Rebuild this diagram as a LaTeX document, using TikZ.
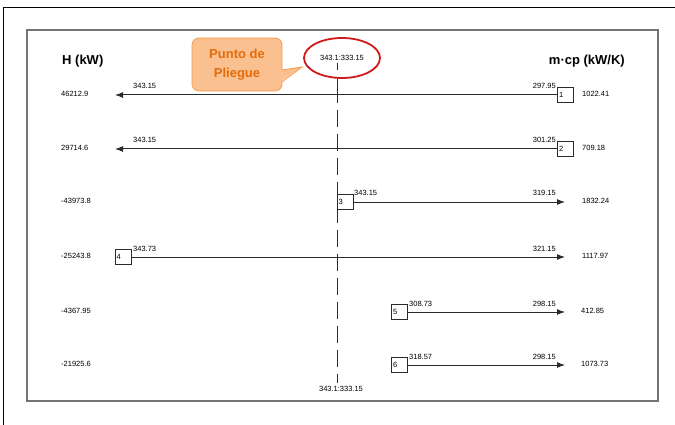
\documentclass[tikz,border=0pt]{standalone}
\usepackage{fontspec}
\setmainfont{Liberation Sans}
\usetikzlibrary{arrows.meta,shapes.geometric}
\definecolor{foldtext}{HTML}{E46C0A}
\definecolor{foldfill}{HTML}{FAC090}
\definecolor{foldedge}{HTML}{F59A4E}
\definecolor{pinchred}{HTML}{D01A1A}
\definecolor{linegray}{HTML}{2A2A2A}
\tikzset{
  val/.style={font=\fontsize{7.5}{9}\selectfont, inner sep=0pt},
  head/.style={font=\fontsize{13}{15}\selectfont\bfseries, inner sep=0pt},
  stream/.style={draw=linegray, line width=1pt, -{Latex[length=8pt,width=6pt]}},
  sbox/.style={draw=linegray, line width=1pt, minimum width=16pt, minimum height=15pt,
    text width=13pt, inner sep=1.5pt, align=left, font=\fontsize{7.5}{8}\selectfont},
  pinch/.style={draw=linegray, line width=1pt},
  fold/.style={draw=foldedge, fill=foldfill, line width=0.8pt, rounded corners=7pt,
    minimum width=90pt, minimum height=53pt, align=center, text=foldtext,
    font=\fontsize{13}{19}\selectfont\bfseries}
}
\begin{document}
\begin{tikzpicture}[x=1pt,y=-1pt]
\useasboundingbox (0,0) rectangle (675,425);
% frames
\draw[line width=0.8pt] (3,425) -- (3,7) -- (675,7);
\draw[black!55, line width=1.5pt] (27,30) rectangle (658,401);

% column headers
\node[head, anchor=west] (hcol) at (62,61) {H (kW)};
\node[head, anchor=east] (mcpcol) at (625,61) {m·cp (kW/K)};

% pinch point
\node[ellipse, draw=pinchred, line width=1.8pt, minimum width=76pt, minimum height=40pt, val] (pinch) at (342,58) {343.1:333.15};
\node[fold] (fold) at (237,64.5) {Punto de\\Pliegue};
\coordinate (foldtip) at (302,67);
\fill[foldfill] (280,70) -- (foldtip) -- (280,82) -- cycle;
\draw[foldedge, line width=0.8pt] (282,70) -- (foldtip) -- (282,82);

\coordinate (ptop) at (337,63);
\coordinate (pbot) at (337,383);
\node[val] (pinchlow) at (341,389) {343.1:333.15};
\draw[pinch] (ptop) -- ++(0,7);
\draw[pinch] (pinch.south -| ptop) -- (337,103);
\draw[pinch, dash pattern=on 17pt off 7pt] (337,110) -- (pbot);

% stream 1
\node[sbox] (b1) at (565.5,95) {1};
\coordinate (t1) at (115,95);
\draw[stream] (b1) -- (t1);
\node[val, anchor=base west] (ta1) at (133,89) {343.15};
\node[val, anchor=base east] (tb1) at (556,89) {297.95};
\node[val, anchor=west] (h1) at (61,94) {46212.9};
\node[val, anchor=west] (m1) at (582,93.5) {1022.41};

% stream 2
\node[sbox] (b2) at (565.5,149) {2};
\coordinate (t2) at (115,149);
\draw[stream] (b2) -- (t2);
\node[val, anchor=base west] (ta2) at (133,143) {343.15};
\node[val, anchor=base east] (tb2) at (556,143) {301.25};
\node[val, anchor=west] (h2) at (61,148) {29714.6};
\node[val, anchor=west] (m2) at (582,147.5) {709.18};

% stream 3
\node[sbox] (b3) at (345,202) {3};
\coordinate (t3) at (565,202);
\draw[stream] (b3) -- (t3);
\node[val, anchor=base west] (ta3) at (354,196) {343.15};
\node[val, anchor=base east] (tb3) at (556,196) {319.15};
\node[val, anchor=west] (h3) at (61,201) {-43973.8};
\node[val, anchor=west] (m3) at (582,200.5) {1832.24};

% stream 4
\node[sbox] (b4) at (123,257) {4};
\coordinate (t4) at (565,257);
\draw[stream] (b4) -- (t4);
\node[val, anchor=base west] (ta4) at (133,251) {343.73};
\node[val, anchor=base east] (tb4) at (556,251) {321.15};
\node[val, anchor=west] (h4) at (61,256) {-25243.8};
\node[val, anchor=west] (m4) at (582,255.5) {1117.97};

% stream 5
\node[sbox] (b5) at (399.5,312) {5};
\coordinate (t5) at (565,312);
\draw[stream] (b5) -- (t5);
\node[val, anchor=base west] (ta5) at (409,306) {308.73};
\node[val, anchor=base east] (tb5) at (556,306) {298.15};
\node[val, anchor=west] (h5) at (61,311) {-4367.95};
\node[val, anchor=west] (m5) at (581,310.5) {412.85};

% stream 6
\node[sbox] (b6) at (399.5,365) {6};
\coordinate (t6) at (565,365);
\draw[stream] (b6) -- (t6);
\node[val, anchor=base west] (ta6) at (409,359) {318.57};
\node[val, anchor=base east] (tb6) at (556,359) {298.15};
\node[val, anchor=west] (h6) at (61,364) {-21925.6};
\node[val, anchor=west] (m6) at (581,363.5) {1073.73};
\end{tikzpicture}
\end{document}
